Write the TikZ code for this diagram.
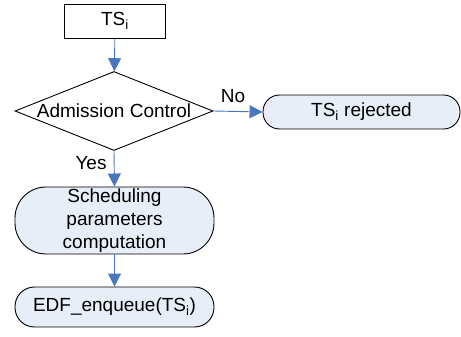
\documentclass[tikz,border=0pt]{standalone}
\usepackage{fontspec}
\setmainfont{Liberation Sans}
\usetikzlibrary{arrows.meta,shapes.geometric}

\definecolor{flowblue}{HTML}{4A76C0}
\definecolor{boxfill}{HTML}{E8EEF7}

\begin{document}
\begin{tikzpicture}[x=1pt,y=-1pt]
    \tikzstyle{every node}=[font=\fontsize{19}{23}\selectfont, inner sep=0pt]
    \tikzstyle{plainbox}=[draw=black, line width=0.9pt, minimum width=101pt, minimum height=34pt]
    \tikzstyle{decide}=[draw=black, line width=0.9pt, diamond, shape aspect=2.5, minimum width=198pt, minimum height=79pt]
    \tikzstyle{procbox}=[draw=black, line width=0.9pt, fill=boxfill, align=center]
    \tikzstyle{flow}=[draw=flowblue, line width=0.9pt, -{Triangle[length=13pt,width=13pt]}]
    \useasboundingbox (0,0) rectangle (461,337);
    % draw the boxes
    \node[plainbox] (ts) at (115,21) {TS\textsubscript{i}};
    \node[decide] (admit) at (114,111) {Admission Control};
    \node[procbox, rounded corners=16.5pt, minimum width=197pt, minimum height=34pt] (reject) at (361.5,112) {TS\textsubscript{i} rejected};
    \node[procbox, rounded corners=31pt, minimum width=199pt, minimum height=67pt] (sched) at (114.5,220.5)
        {Scheduling\\parameters\\computation};
    \node[procbox, rounded corners=19.5pt, minimum width=199pt, minimum height=40pt] (edf) at (114.5,307) {EDF\_enqueue(TS\textsubscript{i})};
    % draw the connectors
    \draw[flow] (ts) -- (admit);
    \draw[flow] (admit.east) -- (reject.west);
    \draw[flow] (admit.south) -- (sched.north);
    \draw[flow] (sched) -- (edf);
    % draw labels
    \node (no) at (233,96) {No};
    \node (yes) at (91,163) {Yes};
\end{tikzpicture}
\end{document}
